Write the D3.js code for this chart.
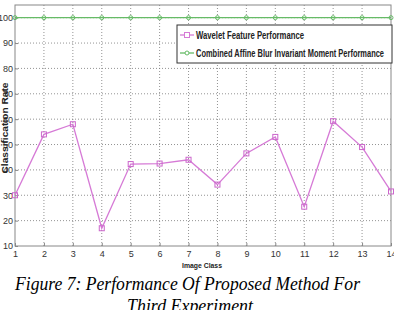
<!DOCTYPE html>
<html>
<head>
<meta charset="utf-8">
<script src="https://cdn.jsdelivr.net/npm/d3@7"></script>
<style>
  body { margin: 0; background: #fff; }
  svg { display: block; }
</style>
</head>
<body>
<svg id="chart" width="394" height="310"></svg>
<script>
// data
var imageClass = [1, 2, 3, 4, 5, 6, 7, 8, 9, 10, 11, 12, 13, 14];
var waveletPerf = [30, 54, 58, 17, 42.3, 42.5, 44, 34.2, 46.5, 53, 25.5, 59.2, 49, 31.5];
var affineBlurPerf = [100, 100, 100, 100, 100, 100, 100, 100, 100, 100, 100, 100, 100, 100];
var yTicks = [10, 20, 30, 40, 50, 60, 70, 80, 90, 100];
var seriesNames = ["Wavelet Feature Performance", "Combined Affine Blur Invariant Moment Performance"];

var svg = d3.select("#chart");
var plotL = 15, plotR = 391, plotT = 5, plotB = 246;
var narrow = "'Liberation Sans Narrow', 'Liberation Sans', Arial, sans-serif";

let x = d3.scaleLinear().domain([1, 14]).range([plotL, plotR]);
let y = d3.scaleLinear().domain([10, 105]).range([plotB, plotT]);

// grid
var grid = svg.append("g");
grid.selectAll(".vg")
    .data(imageClass.slice(1, -1))
    .join("line")
    .attr("x1", d => x(d)).attr("x2", d => x(d))
    .attr("y1", plotT).attr("y2", plotB)
    .attr("stroke", "#777").attr("stroke-width", 0.8)
    .attr("stroke-dasharray", "1,2");
grid.selectAll(".hg")
    .data(yTicks.slice(1))
    .join("line")
    .attr("x1", plotL).attr("x2", plotR)
    .attr("y1", d => y(d)).attr("y2", d => y(d))
    .attr("stroke", "#777").attr("stroke-width", 0.8)
    .attr("stroke-dasharray", "1,2");

// axis box
svg.append("rect")
    .attr("x", plotL).attr("y", plotT)
    .attr("width", plotR - plotL).attr("height", plotB - plotT)
    .attr("fill", "none").attr("stroke", "#888").attr("stroke-width", 1);

// axes (ticks drawn inward like matlab)
var xAxis = svg.append("g")
    .attr("transform", `translate(0,${plotB})`)
    .call(d3.axisBottom(x).tickValues(imageClass).tickSize(-3).tickPadding(5).tickFormat(d3.format("d")));
var yAxis = svg.append("g")
    .attr("transform", `translate(${plotL},0)`)
    .call(d3.axisLeft(y).tickValues(yTicks).tickSize(-3).tickPadding(2));
[xAxis, yAxis].forEach(function(a) {
    a.select(".domain").remove();
    a.selectAll(".tick line").attr("stroke", "#888");
    a.selectAll("text").attr("fill", "#333").style("font-family", narrow).style("font-size", "9px");
});

// series lines
var line = d3.line().x((d, i) => x(imageClass[i])).y(d => y(d));
svg.append("path")
    .datum(affineBlurPerf)
    .attr("d", line)
    .attr("fill", "none").attr("stroke", "#66bb66").attr("stroke-width", 1.3);
svg.append("path")
    .datum(waveletPerf)
    .attr("d", line)
    .attr("fill", "none").attr("stroke", "#d67ad6").attr("stroke-width", 1.3);

// markers
svg.selectAll(".gm")
    .data(affineBlurPerf)
    .join("circle")
    .attr("cx", (d, i) => x(imageClass[i])).attr("cy", d => y(d))
    .attr("r", 2)
    .attr("fill", "none").attr("stroke", "#66bb66").attr("stroke-width", 1);
svg.selectAll(".wm")
    .data(waveletPerf)
    .join("rect")
    .attr("x", (d, i) => x(imageClass[i]) - 2.5).attr("y", d => y(d) - 2.5)
    .attr("width", 5).attr("height", 5)
    .attr("fill", "none").attr("stroke", "#cc66cc").attr("stroke-width", 1);

// legend
var legend = svg.append("g");
legend.append("rect")
    .attr("x", 177).attr("y", 25).attr("width", 215).attr("height", 38)
    .attr("fill", "#fff").attr("stroke", "#333").attr("stroke-width", 1);
var legColors = ["#d67ad6", "#66bb66"];
var legWidths = [108, 188];
seriesNames.forEach(function(name, i) {
    var ly = 35 + i * 18;
    legend.append("line")
        .attr("x1", 180).attr("x2", 194).attr("y1", ly).attr("y2", ly)
        .attr("stroke", legColors[i]).attr("stroke-width", 1.3);
    if (i === 0) {
        legend.append("rect").attr("x", 184.5).attr("y", ly - 2.5).attr("width", 5).attr("height", 5)
            .attr("fill", "#fff").attr("stroke", legColors[i]);
    } else {
        legend.append("circle").attr("cx", 187).attr("cy", ly).attr("r", 2)
            .attr("fill", "#fff").attr("stroke", legColors[i]);
    }
    legend.append("text")
        .attr("x", 196).attr("y", ly + 3.5)
        .attr("textLength", legWidths[i]).attr("lengthAdjust", "spacingAndGlyphs")
        .style("font-family", narrow).style("font-size", "10px").style("font-weight", "bold")
        .attr("fill", "#222")
        .text(name);
});

// axis titles
svg.append("text")
    .attr("x", 202).attr("y", 268)
    .attr("text-anchor", "middle")
    .attr("textLength", 40).attr("lengthAdjust", "spacingAndGlyphs")
    .style("font-family", narrow).style("font-size", "8px").style("font-weight", "bold")
    .attr("fill", "#222")
    .text("Image Class");
svg.append("text")
    .attr("transform", "translate(8,128) rotate(-90)")
    .attr("text-anchor", "middle")
    .attr("textLength", 91).attr("lengthAdjust", "spacingAndGlyphs")
    .style("font-family", narrow).style("font-size", "9px").style("font-weight", "bold")
    .attr("fill", "#222")
    .text("Classification Rate");

// caption
var caption = svg.append("g")
    .style("font-family", "'Liberation Serif', 'Times New Roman', serif")
    .style("font-style", "italic").style("font-size", "19px")
    .attr("fill", "#000");
caption.append("text").attr("x", 15).attr("y", 290)
    .attr("textLength", 345).attr("lengthAdjust", "spacingAndGlyphs")
    .text("Figure 7: Performance Of Proposed Method For");
caption.append("text").attr("x", 127).attr("y", 312)
    .attr("textLength", 126).attr("lengthAdjust", "spacingAndGlyphs")
    .text("Third Experiment");
</script>
</body>
</html>
